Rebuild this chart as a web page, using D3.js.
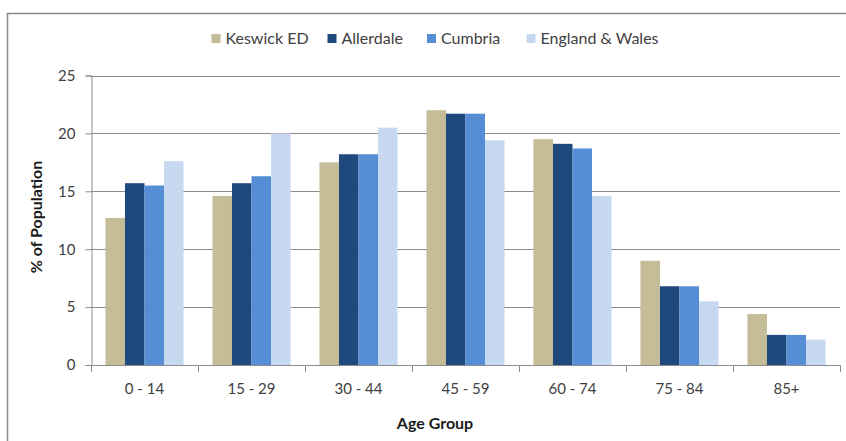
<!DOCTYPE html>
<html>
<head>
<meta charset="utf-8">
<script src="https://cdn.jsdelivr.net/npm/d3@7"></script>
<style>
  html, body { margin: 0; padding: 0; background: #fff; }
  svg { display: block; font-family: Lato, "Open Sans", sans-serif; }
</style>
</head>
<body>
<svg id="chart" width="846" height="441"></svg>
<script>
// Population share by age group (%)
const ageGroups = ["0 - 14", "15 - 29", "30 - 44", "45 - 59", "60 - 74", "75 - 84", "85+"];
const seriesNames = ["Keswick ED", "Allerdale", "Cumbria", "England & Wales"];
const keswick   = [12.7, 14.6, 17.5, 22.0, 19.5, 9.0, 4.4];
const allerdale = [15.7, 15.7, 18.2, 21.7, 19.1, 6.8, 2.6];
const cumbria   = [15.5, 16.3, 18.2, 21.7, 18.7, 6.8, 2.6];
const englandWales = [17.6, 20.0, 20.5, 19.4, 14.6, 5.5, 2.2];
const yTicks = [0, 5, 10, 15, 20, 25];
const colors = ["#C4BD97", "#1F497D", "#558ED5", "#C6D9F1"];

const seriesValues = [keswick, allerdale, cumbria, englandWales];

const svg = d3.select("#chart");
const plot = { left: 91, right: 840, top: 75.5, bottom: 365 };
const gridColor = "#8c8c8c";

// outer chart frame (continues past the right and bottom edges)
svg.append("rect")
  .attr("x", 7.5).attr("y", 13.5)
  .attr("width", 900).attr("height", 500)
  .attr("fill", "none")
  .attr("stroke", "#8a8a8a")
  .attr("stroke-width", 1.5);

const x = d3.scaleBand().domain(ageGroups).range([plot.left, plot.right]).padding(0);
const xSub = d3.scaleBand().domain(seriesNames).range([0, x.bandwidth()])
  .paddingInner(0).paddingOuter(0.74);
const y = d3.scaleLinear().domain([0, 25]).range([plot.bottom, plot.top]);

// horizontal gridlines
svg.append("g")
  .selectAll("line")
  .data(yTicks.filter(d => d > 0))
  .join("line")
  .attr("x1", plot.left).attr("x2", plot.right)
  .attr("y1", d => Math.round(y(d)) + 0.5).attr("y2", d => Math.round(y(d)) + 0.5)
  .attr("stroke", gridColor).attr("stroke-width", 1);

// bars
const groups = svg.append("g")
  .selectAll("g")
  .data(ageGroups)
  .join("g")
  .attr("transform", d => `translate(${x(d)},0)`);

groups.selectAll("rect")
  .data((d, i) => seriesNames.map((s, k) => ({ series: s, k, value: seriesValues[k][i] })))
  .join("rect")
  .attr("x", d => xSub(d.series))
  .attr("width", xSub.bandwidth())
  .attr("y", d => y(d.value))
  .attr("height", d => y(0) - y(d.value))
  .attr("fill", d => colors[d.k]);

// y axis
const yAxis = svg.append("g")
  .attr("transform", `translate(${plot.left + 0.5},0)`)
  .call(d3.axisLeft(y).tickValues(yTicks).tickSize(6).tickPadding(10).tickFormat(d3.format("d")));
yAxis.select(".domain").attr("stroke", gridColor);
yAxis.selectAll(".tick line").attr("stroke", gridColor);
yAxis.selectAll(".tick text")
  .attr("fill", "#404040")
  .style("font-size", "15px")
  .style("font-family", "Lato, sans-serif");

// x axis: baseline plus tick marks at category boundaries
svg.append("line")
  .attr("x1", plot.left).attr("x2", plot.right)
  .attr("y1", plot.bottom + 0.5).attr("y2", plot.bottom + 0.5)
  .attr("stroke", gridColor);

const boundaries = ageGroups.map(d => x(d)).concat([x(ageGroups[ageGroups.length - 1]) + x.bandwidth()]);
svg.append("g")
  .selectAll("line")
  .data(boundaries)
  .join("line")
  .attr("x1", d => Math.round(d) + 0.5).attr("x2", d => Math.round(d) + 0.5)
  .attr("y1", plot.bottom).attr("y2", plot.bottom + 7)
  .attr("stroke", gridColor);

svg.append("g")
  .selectAll("text")
  .data(ageGroups)
  .join("text")
  .attr("x", d => x(d) + x.bandwidth() / 2)
  .attr("y", 394)
  .attr("text-anchor", "middle")
  .attr("fill", "#404040")
  .style("font-size", "15px")
  .text(d => d);

// axis titles
svg.append("text")
  .attr("x", 435).attr("y", 429)
  .attr("text-anchor", "middle")
  .attr("fill", "#1a1a1a")
  .style("font-size", "16px")
  .style("font-weight", "bold")
  .text("Age Group");

svg.append("text")
  .attr("transform", "translate(42,217) rotate(-90)")
  .attr("text-anchor", "middle")
  .attr("fill", "#1a1a1a")
  .style("font-size", "16px")
  .style("font-weight", "bold")
  .text("% of Population");

// legend
const legendX = [211.5, 327.5, 427, 526.5];
const legend = svg.append("g")
  .selectAll("g")
  .data(seriesNames)
  .join("g")
  .attr("transform", (d, i) => `translate(${legendX[i]},0)`);
legend.append("rect")
  .attr("x", 0).attr("y", 34)
  .attr("width", 9).attr("height", 9)
  .attr("fill", (d, i) => colors[i]);
legend.append("text")
  .attr("x", 14).attr("y", 43.5)
  .attr("fill", "#404040")
  .style("font-size", "16px")
  .text(d => d);
</script>
</body>
</html>
